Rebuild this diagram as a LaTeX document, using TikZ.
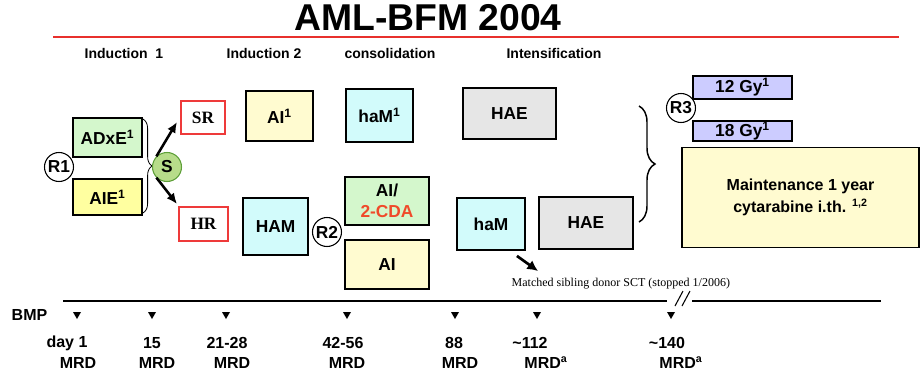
\documentclass[tikz,border=0pt]{standalone}
\usepackage{fontspec}
\setmainfont{Liberation Sans}
\newfontfamily\timesfont{Liberation Serif}
\usetikzlibrary{arrows.meta,decorations.pathreplacing,calc}

\definecolor{boxgreen}{HTML}{D4F7CC}
\definecolor{boxyellow}{HTML}{FFFFA0}
\definecolor{paleyellow}{HTML}{FFFBD0}
\definecolor{boxcyan}{HTML}{D2FBFB}
\definecolor{boxgray}{HTML}{E6E6E6}
\definecolor{boxlav}{HTML}{CCCCFF}
\definecolor{sgreen}{HTML}{B7DC8A}
\definecolor{sedge}{HTML}{5FA03A}
\definecolor{titlered}{HTML}{E8302C}
\definecolor{riskred}{HTML}{EE3A3A}
\definecolor{cdared}{HTML}{F04A2A}

\tikzset{
	sz/.style 2 args={minimum width=#1*0.75pt, minimum height=#2*0.75pt},
	therapy/.style={draw=black, line width=1.4pt, inner sep=0pt, align=center,
		font=\bfseries\fontsize{13}{16}\selectfont},
	risk/.style={draw=riskred, line width=1.4pt, fill=white, inner sep=0pt,
		font=\timesfont\bfseries\fontsize{13}{16}\selectfont},
	rand/.style={circle, draw=black, line width=0.8pt, fill=white, inner sep=0pt,
		minimum size=29*0.75pt, font=\bfseries\fontsize{13}{16}\selectfont},
	phase/.style={font=\bfseries\fontsize{10.5}{12}\selectfont},
	day/.style={font=\bfseries\fontsize{12}{14}\selectfont},
	arr/.style={line width=1.9pt, -{Latex[length=8pt,width=7pt]}},
}

\begin{document}
\begin{tikzpicture}[x=0.75pt,y=-0.75pt]
	\useasboundingbox (0,0) rectangle (922,376);

	% TITLE
	\node[font=\bfseries\fontsize{28}{32}\selectfont] (title) at (428,18) {AML-BFM 2004};
	\draw[titlered, line width=1.2pt] (53,37) -- (899,37);
	\node[phase] (ind1) at (124,53) {Induction\ \ 1};
	\node[phase] (ind2) at (264,53) {Induction 2};
	\node[phase] (cons) at (390,53) {consolidation};
	\node[phase] (intens) at (554,53) {Intensification};

	% INDUCTION 1
	\node[therapy, fill=boxgreen, sz={69}{39}] (adxe) at (107.5,137.5) {ADxE\textsuperscript{1}};
	\node[therapy, fill=boxyellow, sz={69}{36}] (aie) at (107.5,197) {AIE\textsuperscript{1}};
	\node[rand] (rone) at (59,167) {R1};
	\draw[line width=0.6pt, decorate, decoration={brace, amplitude=7pt}]
		($(adxe.north east)+(0,2)$) -- ($(aie.south east)+(0,-3)$);

	% RISK GROUPS
	\node[risk, sz={44}{33}] (sr) at (203,117.5) {SR};
	\node[risk, sz={49}{34}] (hr) at (203.5,224) {HR};
	\node[circle, draw=sedge, line width=0.8pt, fill=sgreen, inner sep=0pt,
		minimum size=29*0.75pt, font=\bfseries\fontsize{13}{16}\selectfont] (strat) at (167,167) {S};
	\coordinate (srtip) at (177,122);
	\coordinate (hrtip) at (177,204);
	\draw[arr] (strat.135) -- (srtip);
	\draw[arr] (strat.225) -- (hrtip);

	% INDUCTION 2
	\node[therapy, fill=paleyellow, sz={67}{50}] (aisr) at (279.5,116) {AI\textsuperscript{1}};
	\node[therapy, fill=boxcyan, sz={65}{57}] (ham) at (275.5,226.5) {HAM};
	\node[rand] (rtwo) at (327,232) {R2};

	% CONSOLIDATION
	\node[therapy, fill=boxcyan, sz={67}{53}] (hamsr) at (379.5,115.5) {haM\textsuperscript{1}};
	\node[therapy, fill=boxgreen, sz={84}{48}] (aicda) at (387,201) {AI/\\\textcolor{cdared}{2-CDA}};
	\node[therapy, fill=paleyellow, sz={84}{49}] (ai) at (387,264.5) {AI};

	% INTENSIFICATION
	\node[therapy, fill=boxgray, sz={93}{51}] (haesr) at (509.5,113.5) {HAE};
	\node[therapy, fill=boxcyan, sz={68}{52}] (hamhr) at (491,224) {haM};
	\node[therapy, fill=boxgray, sz={94}{52}] (haehr) at (586,223) {HAE};
	\node[anchor=west, font=\timesfont\fontsize{9}{11}\selectfont] (sct) at (507,284)
		{Matched sibling donor SCT (stopped 1/2006)};
	\coordinate (scttip) at (538,271);
	\draw[line width=2pt, -{Latex[length=8pt,width=8pt]}] ($(hamhr.south east)+(-9,5)$) -- (scttip);
	\draw[line width=1.1pt, decorate, decoration={brace, amplitude=12pt}] (639,106) -- (639,222);

	% CRANIAL IRRADIATION + MAINTENANCE
	\node[therapy, fill=boxlav, line width=1.2pt, sz={99}{23}] (gytwelve) at (742.5,87.5) {12 Gy\textsuperscript{1}};
	\node[therapy, fill=boxlav, line width=1.2pt, sz={99}{20}] (gyeighteen) at (742.5,131) {18 Gy\textsuperscript{1}};
	\node[rand] (rthree) at (681,108) {R3};
	\node[therapy, fill=paleyellow, sz={237}{100}, font=\bfseries\fontsize{12}{16}\selectfont]
		(maint) at (800.5,197.5) {Maintenance 1 year\\cytarabine i.th. \textsuperscript{1,2}};

	% TIME LINE
	\draw[line width=1.5pt] (63,301) -- (667,301);
	\draw[line width=1.5pt] (692,301) -- (881,301);
	\draw[line width=0.8pt] (675,306) -- (683,291) (682,306) -- (690,291);
	\node[day] (bmp) at (29.5,315) {BMP};
	\foreach \t in {77,152,226,347,455,537,671}
		\fill (\t-4,312) -- (\t+4,312) -- (\t,319) -- cycle;
	\foreach \a/\b/\c/\d [count=\i] in {67/78/day 1/MRD, 152/157/15/MRD, 227/232/21-28/MRD,
			343/347/42-56/MRD, 454/460/88/MRD, 530/546/\textasciitilde112/MRD\textsuperscript{a},
			667/681/\textasciitilde140/MRD\textsuperscript{a}} {
		\node[day] (day\i) at (\a,343) {\c};
		\node[day] (mrd\i) at (\b,363) {\d};
	}
\end{tikzpicture}
\end{document}
